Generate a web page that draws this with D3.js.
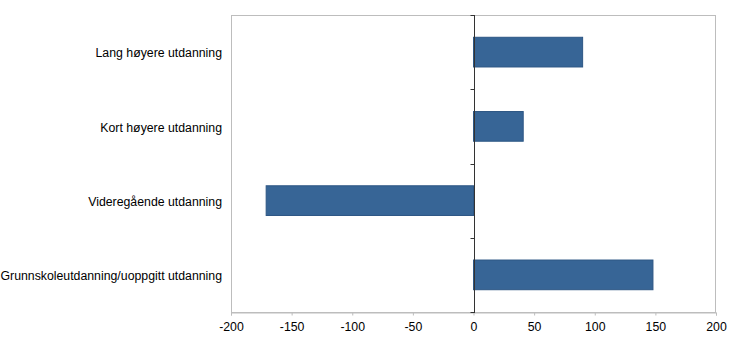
<!DOCTYPE html>
<html>
<head>
<meta charset="utf-8">
<script src="https://cdn.jsdelivr.net/npm/d3@7"></script>
<style>
  body { margin: 0; background: #fff; }
  text { font-family: "Liberation Sans", Arial, sans-serif; fill: #000; }
</style>
</head>
<body>
<div id="chart"></div>
<script>
var categories = [
    "Lang høyere utdanning",
    "Kort høyere utdanning",
    "Videregående utdanning",
    "Grunnskoleutdanning/uoppgitt utdanning"
];
var values = [90, 41, -171, 148];
var xTicks = [-200, -150, -100, -50, 0, 50, 100, 150, 200];

var w = 730, h = 351;
var plotLeft = 231, plotRight = 716, plotTop = 15, plotBottom = 312;

var svg = d3.select("#chart").append("svg")
    .attr("width", w)
    .attr("height", h);

var xScale = d3.scaleLinear()
    .domain([-200, 200])
    .range([plotLeft, plotRight]);

var yScale = d3.scaleBand()
    .domain(categories)
    .range([plotTop, plotBottom])
    .paddingInner(0.6)
    .paddingOuter(0.3);

// plot border
svg.append("rect")
    .attr("x", plotLeft + 0.5)
    .attr("y", plotTop + 0.5)
    .attr("width", plotRight - plotLeft - 1)
    .attr("height", plotBottom - plotTop)
    .attr("fill", "none")
    .attr("stroke", "#bdbdbd")
    .attr("stroke-width", 1);

// bars
svg.selectAll("rect.bar")
    .data(values)
    .enter()
    .append("rect")
    .attr("class", "bar")
    .attr("x", function(d) { return xScale(Math.min(0, d)); })
    .attr("y", function(d, i) { return yScale(categories[i]); })
    .attr("width", function(d) { return Math.abs(xScale(d) - xScale(0)); })
    .attr("height", yScale.bandwidth())
    .attr("fill", "#376596")
    .attr("stroke", "#2d5684")
    .attr("stroke-width", 1);

// x axis at bottom
var xAxis = d3.axisBottom(xScale)
    .tickValues(xTicks)
    .tickSize(3)
    .tickPadding(7)
    .tickFormat(d3.format("d"));

var gx = svg.append("g")
    .attr("transform", "translate(0," + (plotBottom + 0.5) + ")")
    .call(xAxis);
gx.select(".domain").attr("stroke", "#bdbdbd");
gx.selectAll(".tick line").attr("stroke", "#bdbdbd");
gx.selectAll(".tick text")
    .style("font-size", "12.3px")
    .text(function(d) { return d < 0 ? "-" + Math.abs(d) : d; });

// zero line with category boundary ticks
var x0 = Math.round(xScale(0)) + 0.5;
svg.append("line")
    .attr("x1", x0).attr("x2", x0)
    .attr("y1", plotTop).attr("y2", plotBottom + 1)
    .attr("stroke", "#333")
    .attr("stroke-width", 1);

var step = yScale.step();
var bounds = d3.range(categories.length + 1).map(function(i) {
    return plotTop + i * step;
});
svg.selectAll("line.ytick")
    .data(bounds)
    .enter()
    .append("line")
    .attr("class", "ytick")
    .attr("x1", x0 - 4).attr("x2", x0)
    .attr("y1", function(d) { return Math.round(d) + 0.5; })
    .attr("y2", function(d) { return Math.round(d) + 0.5; })
    .attr("stroke", "#333");

// category labels
svg.selectAll("text.cat")
    .data(categories)
    .enter()
    .append("text")
    .attr("class", "cat")
    .attr("x", 222)
    .attr("y", function(d) { return yScale(d) + yScale.bandwidth() / 2 + 1; })
    .attr("dy", "0.35em")
    .attr("text-anchor", "end")
    .style("font-size", "12.3px")
    .text(function(d) { return d; });
</script>
</body>
</html>
